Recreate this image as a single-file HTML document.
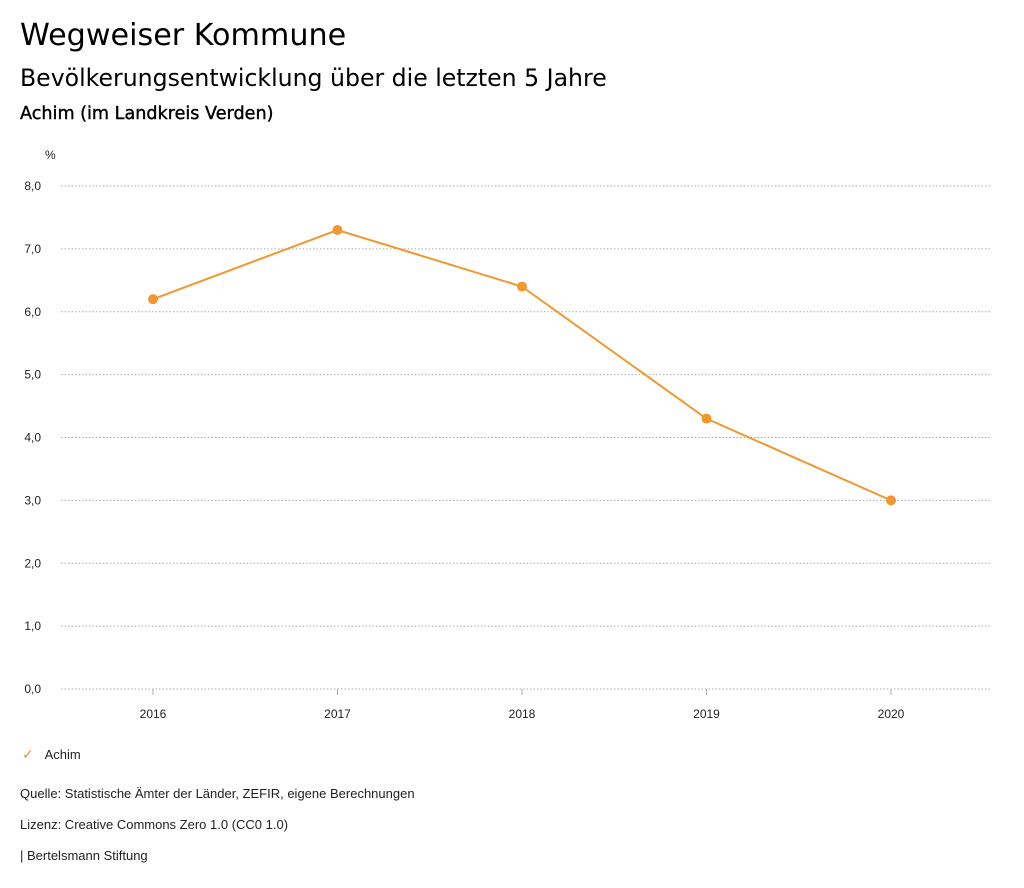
<!DOCTYPE html>
<html><head><meta charset="utf-8"><style>
body{margin:0;width:1024px;height:888px;background:#fff;font-family:"DejaVu Sans","Liberation Sans",sans-serif;color:#000;position:relative;overflow:hidden}
.t{position:absolute;white-space:nowrap}
.s{font-family:"Liberation Sans",sans-serif;font-size:13px;color:#222}
</style></head><body>
<div class="t" style="left:20px;top:18px;font-size:30.2px">Wegweiser Kommune</div>
<div class="t" style="left:20px;top:64px;font-size:23.6px">Bevölkerungsentwicklung über die letzten 5 Jahre</div>
<div class="t" style="left:20px;top:104px;font-size:17.6px;-webkit-text-stroke:0.4px #000">Achim (im Landkreis Verden)</div>
<svg id="chart" width="1024" height="740" style="position:absolute;left:0;top:0"></svg>
<div class="t s" style="left:22px;top:746px"><span style="color:#f0972f;font-size:14px">✓</span>&nbsp;&nbsp;&nbsp;Achim</div>
<div class="t s" style="left:20px;top:786px">Quelle: Statistische Ämter der Länder, ZEFIR, eigene Berechnungen</div>
<div class="t s" style="left:20px;top:817px">Lizenz: Creative Commons Zero 1.0 (CC0 1.0)</div>
<div class="t s" style="left:20px;top:848px">| Bertelsmann Stiftung</div>
<script>
const categories=["2016","2017","2018","2019","2020"];
const values=[6.2,7.3,6.4,4.3,3.0];
const yTicks=[0,1,2,3,4,5,6,7,8];
const yTickLabels=["0,0","1,0","2,0","3,0","4,0","5,0","6,0","7,0","8,0"];
const ns="http://www.w3.org/2000/svg";
const svg=document.getElementById('chart');
const y=v=>689-v*(503/8);
const x=i=>153+i*184.5;
function mk(tag,attrs,txt){const e=document.createElementNS(ns,tag);for(const k in attrs)e.setAttribute(k,attrs[k]);if(txt!=null)e.textContent=txt;svg.appendChild(e);return e;}
const u=mk('text',{x:45,y:159,'font-size':12,'font-family':'Liberation Sans',fill:'#222'},'%');


yTicks.forEach((t,i)=>{
  const l=mk('line',{x1:61,x2:991,y1:y(t),y2:y(t),stroke:'#aaa','stroke-dasharray':'1.5,2'});
  
  
  const tx=mk('text',{x:41,y:y(t)+4,'font-size':12,'text-anchor':'end','font-family':'Liberation Sans',fill:'#222'},yTickLabels[i]);
  
  
});
categories.forEach((c,i)=>{
  const tk=mk('line',{x1:x(i),x2:x(i),y1:689,y2:695,stroke:'#aaa'});
  
  
  const tx=mk('text',{x:x(i),y:718,'font-size':12,'text-anchor':'middle','font-family':'Liberation Sans',fill:'#222'},c);
  
  
});
const p=mk('polyline',{points:values.map((v,i)=>x(i)+','+y(v)).join(' '),fill:'none',stroke:'#f0972f','stroke-width':2});


values.forEach((v,i)=>{
  const c=mk('circle',{cx:x(i),cy:y(v),r:5,fill:'#f0972f'});
  
  
});
</script>
</body></html>
